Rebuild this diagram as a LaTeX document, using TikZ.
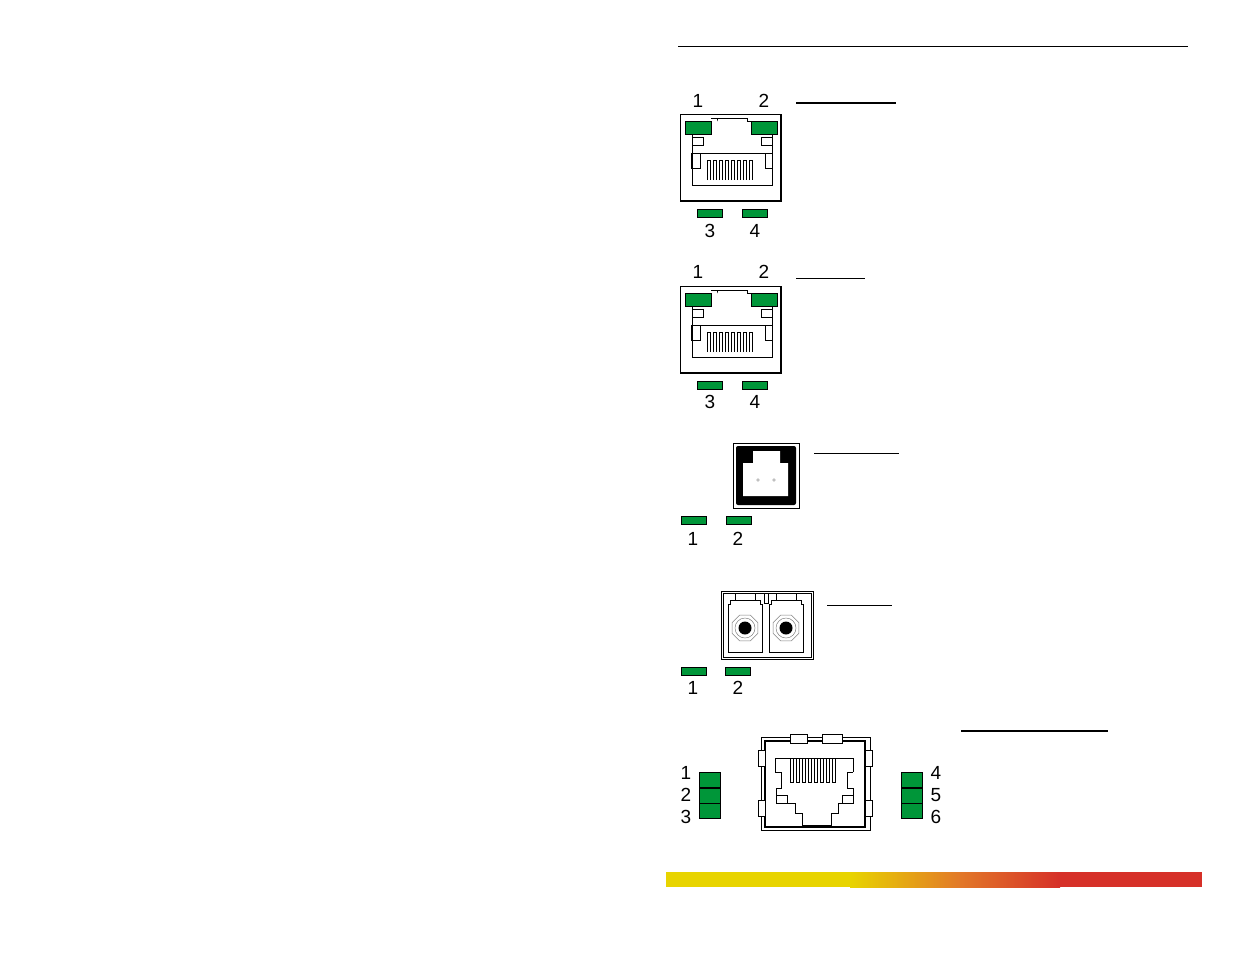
\documentclass[tikz,border=0pt]{standalone}
\usepackage{fontspec}
\setmainfont{Liberation Sans}
\usetikzlibrary{positioning}
\definecolor{ledgreen}{RGB}{0,150,57}
\definecolor{barYellow}{RGB}{232,212,0}
\definecolor{barOrange}{RGB}{226,120,40}
\definecolor{barRed}{RGB}{214,48,40}

% small RJ45 jack, origin at top left corner of its frame
\newcommand{\smalljack}[2]{%
  \begin{scope}[shift={(#1,#2)}]
    \draw [thin] (0,0) rectangle (101,87);
    \draw [line width=1.4pt] (0,87) -- (101,87) -- (101,0);
    \draw (31,4) -- (37,4) -- (37,7) |- (67,4) -- (67,7) -- (71,7);
    \draw (12,21) -- (12,71) -- (92,71) -- (92,21);
    \draw (12,23) rectangle (23,31);  \draw (81,23) rectangle (92,31);
    \draw (11,39) rectangle (20,54);  \draw (85,39) rectangle (92,54);
    \draw (20,39) -- (85,39);
    \foreach \i in {0,...,7} \draw (27+6*\i,66) -- (27+6*\i,46) -- (30+6*\i,46) -- (30+6*\i,66);
    \node [led, minimum width=26, minimum height=13] (L1) at (18,14) {};
    \node [led, minimum width=26, minimum height=13] (L2) at (84,14) {};
  \end{scope}}

\begin{document}
\begin{tikzpicture}[x=1pt, y=-1pt, line width=.6pt]
  \tikzset{
    led/.style={draw, fill=ledgreen, inner sep=0, minimum width=25, minimum height=8, line width=.5pt},
    num/.style={font=\fontsize{19}{21}\selectfont, inner sep=0},
    rule/.style={line width=1pt},
  }
  \useasboundingbox (0,0) rectangle (1235,954);

  % page rule and colour bar
  \draw [line width=.5pt] (678,46) -- (1188,46);
  \fill [barYellow] (666,872) rectangle (851,887);
  \fill [barRed] (1059,872) rectangle (1202,887);
  \shade [left color=barYellow, right color=barOrange] (850,872) rectangle (961,887);
  \shade [left color=barOrange, right color=barRed] (960,872) rectangle (1060,887);

  % first RJ45
  \smalljack{680}{114}
  \node [num] (a1) at (698,101) {1};
  \node [num] (a2) at (764,101) {2};
  \node [led] (a3l) at (709.5,213) {};
  \node [led] (a4l) at (754.5,213) {};
  \node [num] (a3) at (710,231) {3};
  \node [num] (a4) at (755,231) {4};
  \draw [rule, line width=1.4pt] (796,103) -- (896,103);

  % second RJ45
  \smalljack{680}{286}
  \node [num] (b1) at (698,272) {1};
  \node [num] (b2) at (764,272) {2};
  \node [led] (b3l) at (709.5,385) {};
  \node [led] (b4l) at (754.5,385) {};
  \node [num] (b3) at (710,402) {3};
  \node [num] (b4) at (755,402) {4};
  \draw [rule] (796,278) -- (865,278);

  % square jack
  \draw (733,443) rectangle (799,508);
  \fill [rounded corners=2] (736,446) rectangle (796,505);
  \fill [white] (753,451) -- (780,451) -- (780,463) -- (788,463) -- (788,496)
    -- (743,496) -- (743,463) -- (753,463) -- cycle;
  \draw [line width=.3pt, gray] (758,480) circle (1.4) (774,480) circle (1.4);
  \node [led] (c1l) at (694,520) {};
  \node [led] (c2l) at (739,520) {};
  \node [num] (c1) at (693,539) {1};
  \node [num] (c2) at (738,539) {2};
  \draw [rule] (814,453) -- (899,453);

  % fibre pair
  \draw (721,591) rectangle (813,659);
  \draw (723,593) rectangle (811,657);
  \draw (764,593) rectangle (768,603);
  \foreach \cx in {745,786} {
    \draw (\cx-15,604) -- (\cx-15,600) -- (\cx+15,600) -- (\cx+15,604) -- (\cx+17,604) -- (\cx+17,652)
      -- (\cx-17,652) -- (\cx-17,604) -- cycle;
    \draw (\cx-10,593) -- (\cx-10,600) (\cx+10,593) -- (\cx+10,600);
    \draw [gray, line width=.5pt] (\cx,628) +(22.5:14) -- +(67.5:14) -- +(112.5:14) -- +(157.5:14)
      -- +(202.5:14) -- +(247.5:14) -- +(292.5:14) -- +(337.5:14) -- cycle;
    \draw [gray, line width=.5pt] (\cx,628) circle (10);
    \fill (\cx,628) circle (6.5);
  }
  \node [led] (d1l) at (694,671) {};
  \node [led] (d2l) at (738,671) {};
  \node [num] (d1) at (693,688) {1};
  \node [num] (d2) at (738,688) {2};
  \draw [rule] (827,605) -- (892,605);

  % large RJ45
  \draw (761,737) rectangle (870,830);
  \draw [line width=1.3pt] (765,741) rectangle (865,827);
  \draw [fill=white] (790,734) rectangle (807,743);
  \draw [fill=white] (822,734) rectangle (842,743);
  \foreach \sy in {750,800} {
    \draw [fill=white] (758,\sy) rectangle (765,\sy+16);
    \draw [fill=white] (865,\sy) rectangle (872,\sy+16);
  }
  \draw (775,772) -- (775,758) -- (853,758) -- (853,772);
  \draw (775,772) -- (781,772) (853,772) -- (847,772);
  \draw (781,772) -- (781,788) -- (776,788) -- (776,803) -- (795,803) -- (795,813) -- (802,813)
    -- (802,825) -- (831,825) -- (831,813) -- (838,813) -- (838,803) -- (853,803) -- (853,788)
    -- (847,788) -- (847,772);
  \draw (776,788) -- (776,795) -- (787,795) -- (787,803);
  \draw (853,795) -- (842,795) -- (842,803);
  \foreach \i in {0,...,7} \draw (790+6*\i,758) -- (790+6*\i,782) -- (793+6*\i,782) -- (793+6*\i,758);
  \foreach \n/\y/\ty in {1/779.5/773,2/795.5/795,3/811/817} {
    \node [led, minimum width=21, minimum height=15] (el\n) at (709.5,\y) {};
    \node [num] (e\n) at (686,\ty) {\n};
  }
  \foreach \n/\y/\ty in {4/779.5/773,5/795.5/795,6/811/817} {
    \node [led, minimum width=21, minimum height=15] (fl\n) at (912,\y) {};
    \node [num] (f\n) at (936,\ty) {\n};
  }
  \draw [rule, line width=1.4pt] (961,731) -- (1108,731);
\end{tikzpicture}
\end{document}
